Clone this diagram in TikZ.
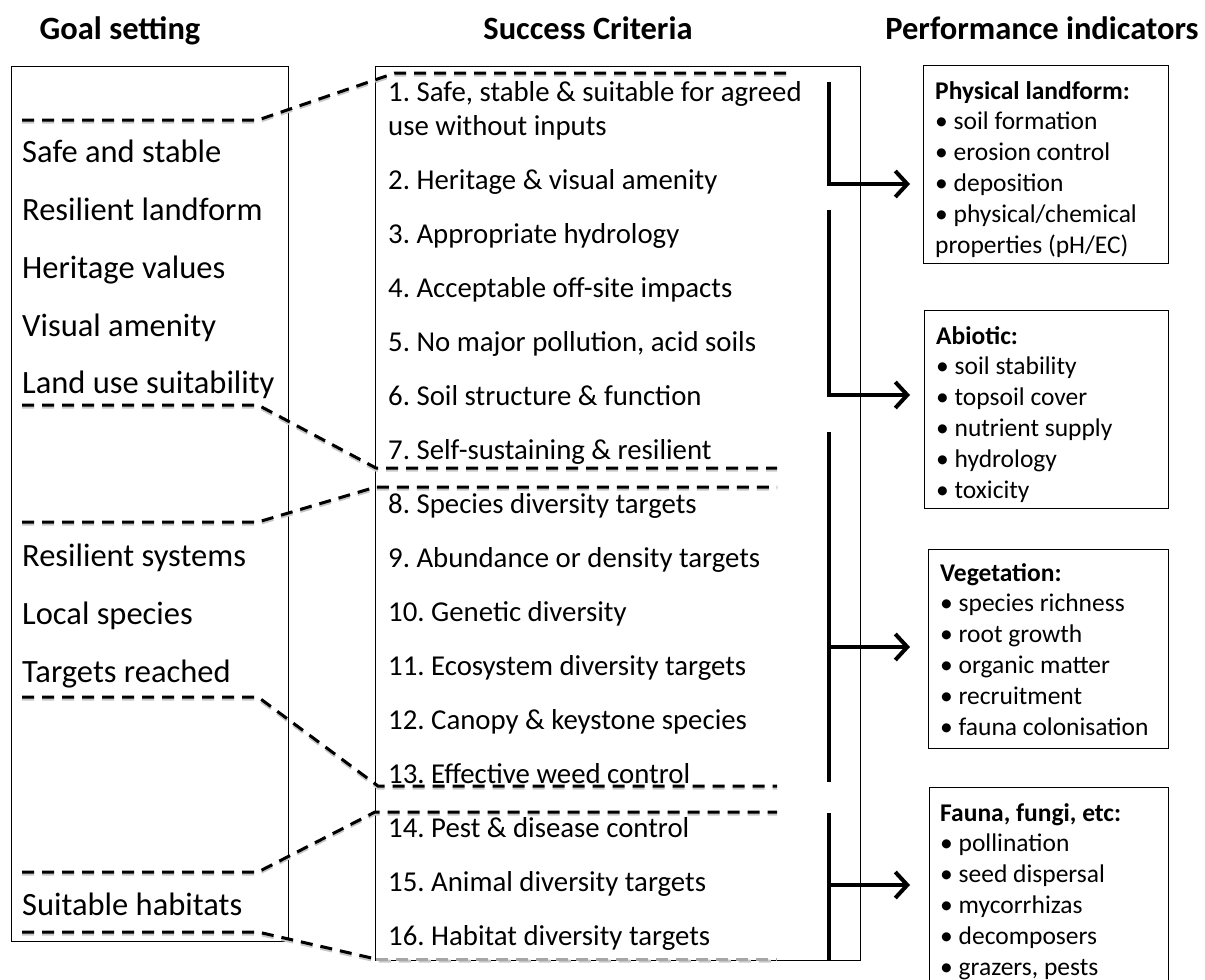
\documentclass[tikz,border=0pt]{standalone}
\usepackage{fontspec}
\setmainfont{Carlito}
\usetikzlibrary{arrows.meta}
\frenchspacing

\begin{document}
\begin{tikzpicture}[x=1pt,y=-1pt,
		heading/.style={font=\bfseries\fontsize{32.5}{38}\selectfont, anchor=base, inner sep=0pt},
		goal/.style={font=\fontsize{32.5}{38}\selectfont, anchor=base west, inner sep=0pt},
		crit/.style={font=\fontsize{28.8}{35}\selectfont, anchor=base west, inner sep=0pt},
		colframe/.style={draw, line width=1pt, anchor=north west, inner sep=0pt},
		pitext/.style={font=\fontsize{25.5}{30.8}\selectfont, align=left, anchor=north west, inner sep=0pt},
		link/.style={line width=3pt, dash pattern=on 12pt off 8pt},
		linkshadow/.style={link, draw=black!22},
		bar/.style={line width=4pt},
		>={Straight Barb[length=12pt,width=26pt]}]
			\useasboundingbox (0,0) rectangle (1205,980);
			% column headings
			\node[heading] (hgoal) at (120,39) {Goal setting};
			\node[heading] (hcrit) at (588,39) {Success Criteria};
			\node[heading] (hperf) at (1042,39) {Performance indicators};
			% the two frames
			\node[colframe, minimum width=277pt, minimum height=875pt] (goalbox) at (11,66) {};
			\node[colframe, minimum width=485pt, minimum height=894pt] (critbox) at (375,66) {};
			% goals
			\node[goal] (g1) at (22,162) {Safe and stable};
			\node[goal] (g2) at (22,220) {Resilient landform};
			\node[goal] (g3) at (22,278) {Heritage values};
			\node[goal] (g4) at (22,336) {Visual amenity};
			\node[goal] (g5) at (22,393) {Land use suitability};
			\node[goal] (g6) at (22,566) {Resilient systems};
			\node[goal] (g7) at (22,624) {Local species};
			\node[goal] (g8) at (22,682) {Targets reached};
			\node[goal] (g9) at (22,915) {Suitable habitats};
			% criteria
			\node[crit] (c1) at (388,101) {1. Safe, stable \& suitable for agreed};
			\node[crit] (c1b) at (388,135) {use without inputs};
			\foreach \txt [count=\i from 2] in {{2. Heritage \& visual amenity}, {3. Appropriate hydrology},
				{4. Acceptable off-site impacts}, {5. No major pollution, acid soils}, {6. Soil structure \& function},
				{7. Self-sustaining \& resilient}, {8. Species diversity targets}, {9. Abundance or density targets},
				{10. Genetic diversity}, {11. Ecosystem diversity targets}, {12. Canopy \& keystone species},
				{13. Effective weed control}, {14. Pest \& disease control}, {15. Animal diversity targets},
				{16. Habitat diversity targets}}
				\node[crit] (c\i) at (388,{189+(\i-2)*54}) {\txt};
			% dashed links goal -> criteria
			\foreach \ly/\cx/\ry/\ex [count=\i] in {120/395/73/792, 405/376/468/777, 522/376/487/777,
				697/378/786/777, 872/375/812/777, 932/376/959/777} {
				\coordinate (la\i) at (22,\ly);
				\coordinate (lb\i) at (258,\ly);
				\coordinate (lc\i) at (\cx,\ry);
				\coordinate (ld\i) at (\ex,\ry);
				\draw[linkshadow] ([yshift=-2pt]la\i) -- ([yshift=-2pt]lb\i) -- ([yshift=-2pt]lc\i) -- ([yshift=-2pt]ld\i);
			}
			\foreach \i in {1,...,5}
				\draw[link] (la\i) -- (lb\i) -- (lc\i) -- (ld\i);
			\draw[link] (la6) -- (lb6) -- (lc6);
			\draw[link, draw=black!35] (lc6) -- (ld6);
			% performance indicator boxes
			\node[colframe, minimum width=245pt, minimum height=198pt] (phys) at (923,65) {};
			\node[colframe, minimum width=244pt, minimum height=198pt] (abio) at (924,310) {};
			\node[colframe, minimum width=240pt, minimum height=199pt] (veg) at (928,549) {};
			\node[colframe, minimum width=239pt, minimum height=215pt] (fauna) at (929,787) {};
			\node[pitext] (physt) at ([xshift=12pt,yshift=-16pt]phys.north west)
				{\textbf{Physical landform:}\\• soil formation\\• erosion control\\• deposition\\• physical/chemical\\properties (pH/EC)};
			\node[pitext] (abiot) at ([xshift=12pt,yshift=-16pt]abio.north west)
				{\textbf{Abiotic:}\\• soil stability\\• topsoil cover\\• nutrient supply\\• hydrology\\• toxicity};
			\node[pitext] (vegt) at ([xshift=12pt,yshift=-14pt]veg.north west)
				{\textbf{Vegetation:}\\• species richness\\• root growth\\• organic matter\\• recruitment\\• fauna colonisation};
			\node[pitext] (faunat) at ([xshift=11pt,yshift=-16pt]fauna.north west)
				{\textbf{Fauna, fungi, etc:}\\• pollination\\• seed dispersal\\• mycorrhizas\\• decomposers\\• grazers, pests};
			% brackets and arrows
			\coordinate (b1t) at (829,82);
			\coordinate (b1m) at (829,184);
			\coordinate (b2t) at (829,210);
			\coordinate (b2m) at (829,395);
			\coordinate (b3t) at (829,432);
			\coordinate (b3m) at (829,647);
			\coordinate (b3b) at (829,782);
			\coordinate (b4t) at (829,813);
			\coordinate (b4m) at (829,885);
			\coordinate (b4b) at (829,960);
			\coordinate (a1) at (910,184);
			\coordinate (a2) at (910,395);
			\coordinate (a3) at (910,647);
			\coordinate (a4) at (910,885);
			\draw[bar] (b1t) -- (b1m);
			\draw[bar] (b2t) -- (b2m);
			\draw[bar] (b3t) -- (b3b);
			\draw[bar] (b4t) -- (b4b);
			\draw[bar,->] ([xshift=-2pt]b1m) -- (a1);
			\draw[bar,->] ([xshift=-2pt]b2m) -- (a2);
			\draw[bar,->] (b3m) -- (a3);
			\draw[bar,->] (b4m) -- (a4);
\end{tikzpicture}
\end{document}
